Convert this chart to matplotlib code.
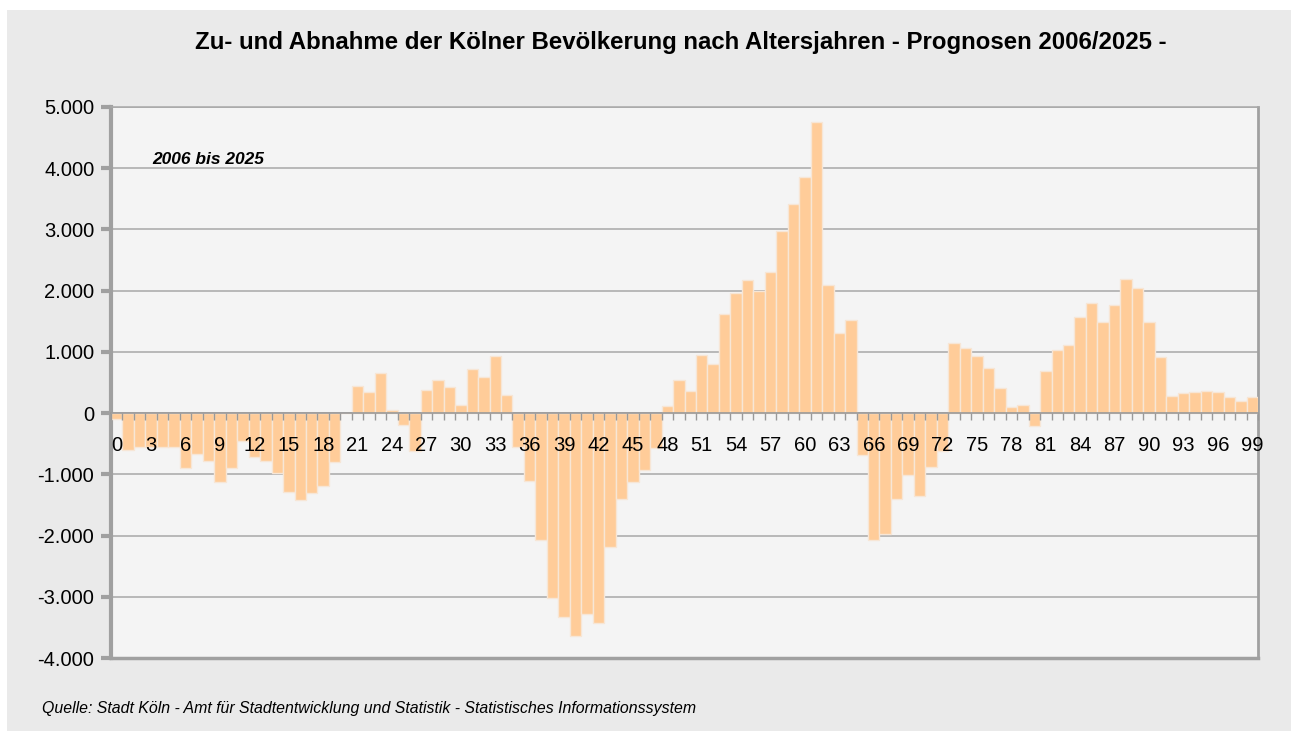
import numpy as np
import matplotlib.pyplot as plt
from matplotlib.patches import Rectangle
from matplotlib.ticker import FuncFormatter

plt.rcParams['font.family'] = ['Liberation Sans', 'DejaVu Sans']

# Zu-/Abnahme je Altersjahr 0..99 (2006 bis 2025)
ages = list(range(100))
change = [
    -100, -600, -560, -560, -560, -555, -890, -660, -790, -1130,
    -890, -450, -715, -780, -980, -1290, -1420, -1305, -1185, -800,
    0, 435, 350, 650, 55, -190, -615, 370, 535, 430,
    137, 727, 590, 935, 300, -550, -1105, -2075, -3020, -3330,
    -3635, -3280, -3430, -2185, -1400, -1130, -925, -575, 118, 542,
    360, 942, 800, 1611, 1954, 2177, 1987, 2303, 2972, 3408,
    3849, 4763, 2096, 1306, 1513, -683, -2077, -1967, -1410, -1011,
    -1350, -874, -617, 1148, 1066, 940, 732, 415, 106, 137,
    -208, 683, 1027, 1120, 1568, 1792, 1492, 1770, 2191, 2038,
    1492, 913, 284, 322, 350, 366, 339, 257, 191, 262,
]
yticks = list(range(-4000, 5001, 1000))
xlabels = list(range(0, 100, 3))

W, H = 1291, 731
fig = plt.figure(figsize=(W / 100, H / 100), dpi=100)
fig.patch.set_facecolor('white')
fig.patches.append(Rectangle((7 / W, 0), 1, (H - 10) / H, transform=fig.transFigure,
                             facecolor='#eaeaea', edgecolor='none', zorder=-10))

ax = fig.add_axes([111 / W, 1 - 658 / H, (1258 - 111) / W, (658 - 107) / H])
ax.set_facecolor('#f4f4f4')

ax.bar(ages, change, width=1.0, color='#ffcc99', edgecolor='#f7e6d6', linewidth=1.0, zorder=3)

ax.set_xlim(-0.5, 99.5)
ax.set_ylim(-4000, 5000)
ax.set_yticks(yticks)
ax.yaxis.set_major_formatter(FuncFormatter(lambda v, p: f'{v:,.0f}'.replace(',', '.')))
ax.grid(axis='y', color='#a8a8a8', linewidth=1.1, zorder=1)
ax.tick_params(axis='y', length=7, width=3, color='#a0a0a0', labelsize=14.5, pad=5)

# x axis on the zero line, labels drawn above the bars
ax.spines['bottom'].set_position(('data', 0))
ax.spines['bottom'].set_color('#999999')
ax.spines['bottom'].set_linewidth(1.2)
ax.spines['bottom'].set_zorder(4)
ax.xaxis.set_zorder(5)
ax.set_xticks(xlabels)
ax.set_xticklabels([str(a) for a in xlabels])
ax.set_xticks(np.arange(-0.5, 100, 1), minor=True)
ax.tick_params(axis='x', which='major', length=0, labelsize=14.5, pad=16.5)
ax.tick_params(axis='x', which='minor', length=5, width=1, color='#999999')

ax.spines['left'].set_color('#a0a0a0')
ax.spines['left'].set_linewidth(3)
ax.spines['right'].set_color('#a0a0a0')
ax.spines['right'].set_linewidth(2)
ax.spines['top'].set_color('#a8a8a8')
ax.spines['top'].set_linewidth(1.1)
ax.axhline(-4000, color='#a0a0a0', linewidth=2.5, zorder=4, clip_on=False)

ax.text(0.036, 0.905, '2006 bis 2025', transform=ax.transAxes, fontsize=12.5,
        fontweight='bold', fontstyle='italic', ha='left', va='center')

fig.text(0.527, 1 - 42 / H, 'Zu- und Abnahme der Kölner Bevölkerung nach Altersjahren - Prognosen 2006/2025 -',
         ha='center', va='center', fontsize=17.3, fontweight='bold')
fig.text(42 / W, 1 - 708 / H,
         'Quelle: Stadt Köln - Amt für Stadtentwicklung und Statistik - Statistisches Informationssystem',
         ha='left', va='center', fontsize=11.4, fontstyle='italic')

fig.savefig('out.png', dpi=100, facecolor=fig.get_facecolor())
